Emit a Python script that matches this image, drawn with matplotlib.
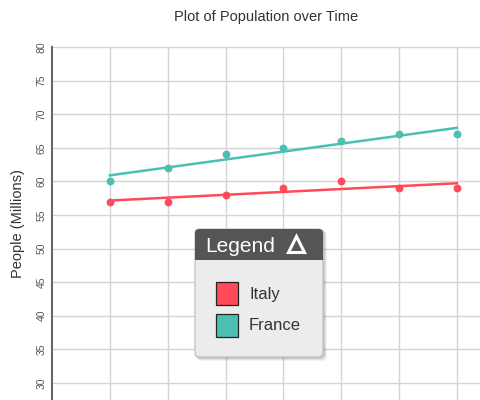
import matplotlib
matplotlib.use("Agg")
import matplotlib.pyplot as plt
from matplotlib.patches import FancyBboxPatch, Rectangle
from matplotlib.lines import Line2D
import numpy as np

plt.rcParams['font.family'] = ['Liberation Sans', 'DejaVu Sans']

years = [2010, 2011, 2012, 2013, 2014, 2015, 2016]
italy = [57, 57, 58, 59, 60, 59, 59]
france = [60, 62, 64, 65, 66, 67, 67]
series_names = ['Italy', 'France']
series_colors = ['#ff4a5a', '#4bc0b2']

W, H = 480, 400
fig = plt.figure(figsize=(4.8, 4.0), dpi=100)
ax = fig.add_axes([52 / W, 0, 1 - 52 / W, 1 - 47 / H])

for vals, col in zip([italy, france], series_colors):
    ax.scatter(years, vals, s=32, color=col, zorder=3, linewidths=0)
    k, b = np.polyfit(years, vals, 1)
    xs = np.array([years[0], years[-1]])
    ax.plot(xs, k * xs + b, color=col, lw=1.8, zorder=3)

ax.set_xlim(years[0] - 1, years[-1] + 0.4)
ax.set_ylim(27.45, 80)
ax.set_xticks(years)
ax.set_yticks(np.arange(30, 81, 5))
ax.tick_params(axis='x', length=0, labelbottom=False)
ax.tick_params(axis='y', length=0, labelsize=7.5, labelcolor='#555555', pad=4)
for lbl in ax.get_yticklabels():
    lbl.set_rotation(90)
    lbl.set_va('center')
ax.grid(True, color='#d4d4d4', lw=1)
ax.set_axisbelow(True)
for s in ['top', 'right', 'bottom']:
    ax.spines[s].set_visible(False)
ax.spines['left'].set_color('#666666')
ax.spines['left'].set_linewidth(1.5)
ax.set_ylabel('People (Millions)', fontsize=10.5, color='#333333', labelpad=8)

fig.text(266 / W, 1 - 17 / H, 'Plot of Population over Time', ha='center', va='center',
         fontsize=10.5, color='#333333')

# legend box drawn in figure pixel coordinates
def fx(px):
    return px / W

def fy(py):
    return 1 - py / H

lx0, lx1, ly0, ly1 = 195, 323, 229, 357
for off, a in [(4, 0.05), (3, 0.07), (2, 0.09)]:
    shadow = FancyBboxPatch((fx(lx0 + off - 2), fy(ly1 + off)), fx(lx1 - lx0 + 2), (ly1 - ly0 + 2) / H,
                            boxstyle='round,pad=0,rounding_size=0.012', transform=fig.transFigure,
                            facecolor='#000000', alpha=a, edgecolor='none', zorder=9)
    fig.add_artist(shadow)
body = FancyBboxPatch((fx(lx0), fy(ly1)), fx(lx1 - lx0), (ly1 - ly0) / H,
                      boxstyle='round,pad=0,rounding_size=0.01', transform=fig.transFigure,
                      facecolor='#ececec', edgecolor='#bbbbbb', lw=0.8, zorder=10)
header = FancyBboxPatch((fx(lx0), fy(260)), fx(lx1 - lx0), (260 - ly0) / H,
                        boxstyle='round,pad=0,rounding_size=0.01', transform=fig.transFigure,
                        facecolor='#555555', edgecolor='none', zorder=11)
header_fill = Rectangle((fx(lx0), fy(260)), fx(lx1 - lx0), 10 / H, transform=fig.transFigure,
                        facecolor='#555555', edgecolor='none', zorder=11)
for p in [body, header, header_fill]:
    fig.add_artist(p)
fig.text(fx(205), fy(246), 'Legend', ha='left', va='center', fontsize=15,
         color='white', zorder=12)
tri = Line2D([fx(296)], [fy(244)], marker='^', markersize=12, markerfacecolor='none',
             markeredgecolor='white', markeredgewidth=2.2, transform=fig.transFigure, zorder=12)
fig.add_artist(tri)

for i, (name, col) in enumerate(zip(series_names, series_colors)):
    top = 282 + i * 32
    sq = Rectangle((fx(216), fy(top + 23)), fx(22), 23 / H, transform=fig.transFigure,
                   facecolor=col, edgecolor='#222222', lw=0.9, zorder=12)
    fig.add_artist(sq)
    fig.text(fx(249), fy(top + 12), name, ha='left', va='center', fontsize=12,
             color='#333333', zorder=12)

fig.savefig('out.png', dpi=100)
